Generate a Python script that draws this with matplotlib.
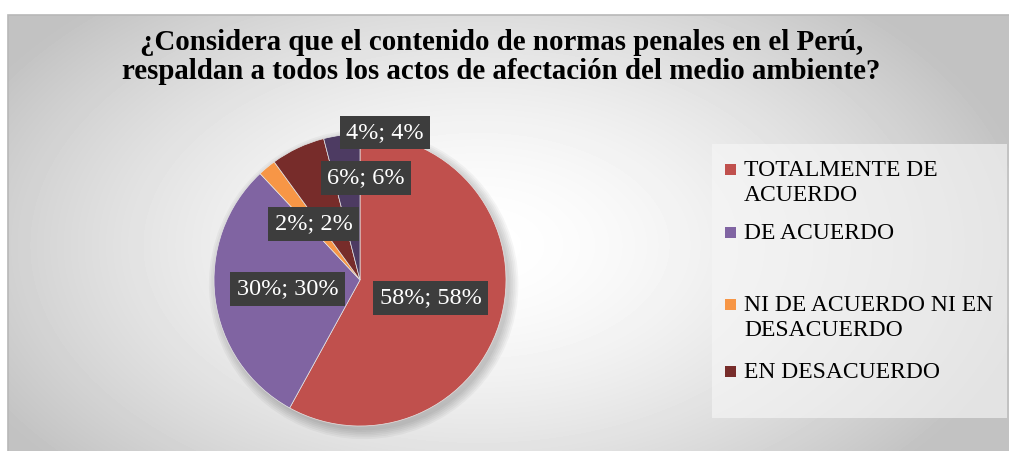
"""
Pie chart: opinion on penal norms and environmental damage (Peru).
"""

import numpy as np
import matplotlib.pyplot as plt
from matplotlib.patches import Rectangle, Circle

# data
categories = [
    "TOTALMENTE DE\nACUERDO",
    "DE ACUERDO",
    "NI DE ACUERDO NI EN\nDESACUERDO",
    "EN DESACUERDO",
    "TOTALMENTE EN DESACUERDO",
]
values = [58, 30, 2, 6, 4]
colors = ["#C0504D", "#8064A2", "#F79646", "#772C2A", "#4D3B62"]
legend_rows = [169, 232, 304, 371]  # pixel rows of the visible legend entries

title = ("¿Considera que el contenido de normas penales en el Perú,\n"
         "respaldan a todos los actos de afectación del medio ambiente?")

W, H = 1009, 451
plt.rcParams["font.family"] = ["Liberation Serif", "DejaVu Serif"]

fig = plt.figure(figsize=(W / 100, H / 100), dpi=100)
fig.patch.set_facecolor("white")

# chart area background: radial grey gradient
bg = fig.add_axes([8 / W, 0, 1 - 8 / W, (H - 15) / H])
yy, xx = np.mgrid[0:436, 0:1001]
d = np.hypot((xx - 470) / 560.0, (yy - 230) / 330.0)
shade = 1.0 - 0.24 * np.clip(d, 0, 1) ** 1.6
bg.imshow(shade, cmap="gray", vmin=0, vmax=1, aspect="auto",
          extent=(0, 1, 0, 1), interpolation="bilinear")
bg.set_xlim(0, 1)
bg.set_ylim(0, 1)
bg.axis("off")
fig.patches.append(Rectangle((8 / W, -0.01), 1.1, (H - 15) / H + 0.01,
                             transform=fig.transFigure, fill=False,
                             edgecolor="#b8b8b8", linewidth=1.2))

# legend panel
fig.patches.append(Rectangle((712 / W, 1 - 418 / H), (1007 - 712) / W, (418 - 144) / H,
                             transform=fig.transFigure, facecolor="#f6f6f6",
                             edgecolor="none", alpha=0.65))

# pie
cx, cy, r = 360, 280, 146
ax = fig.add_axes([(cx - r) / W, (H - cy - r) / H, 2 * r / W, 2 * r / H])

# soft shadow under the pie
for k in range(6):
    ax.add_patch(Circle((0.025, -0.03), 1.0 + 0.012 * k, facecolor="black",
                        edgecolor="none", alpha=0.035, zorder=0, clip_on=False))

wedges, texts = ax.pie(
    values,
    colors=colors,
    startangle=90,
    counterclock=False,
    labels=[f"{v}%; {v}%" for v in values],
    labeldistance=0.5,
    wedgeprops=dict(edgecolor="#e6e6e6", linewidth=0.5, zorder=2),
    textprops=dict(color="white", fontsize=17.5, ha="center", va="center",
                   zorder=5,
                   bbox=dict(boxstyle="square,pad=0.26", facecolor="#3d3d3d",
                             edgecolor="none")),
)
ax.set_xlim(-1, 1)
ax.set_ylim(-1, 1)

# small slices: labels pushed out as in the reference
texts[3].set_position((0.04, 0.70))
texts[4].set_position((0.17, 1.01))

fig.text(0.497, 1 - 57 / H, title, ha="center", va="center",
         fontsize=20.8, fontweight="bold", linespacing=1.08)

# legend (only the first four entries are visible in the reference)
for color, label, row in zip(colors, categories, legend_rows):
    fig.patches.append(Rectangle((725 / W, 1 - (row + 6) / H), 11 / W, 11 / H,
                                 transform=fig.transFigure, facecolor=color,
                                 edgecolor="none"))
    for j, line in enumerate(label.split("\n")):
        fig.text(744 / W, 1 - (row + 7 + 25 * j) / H, line, ha="left",
                 va="baseline", fontsize=17)

fig.savefig("out.png", dpi=100)
